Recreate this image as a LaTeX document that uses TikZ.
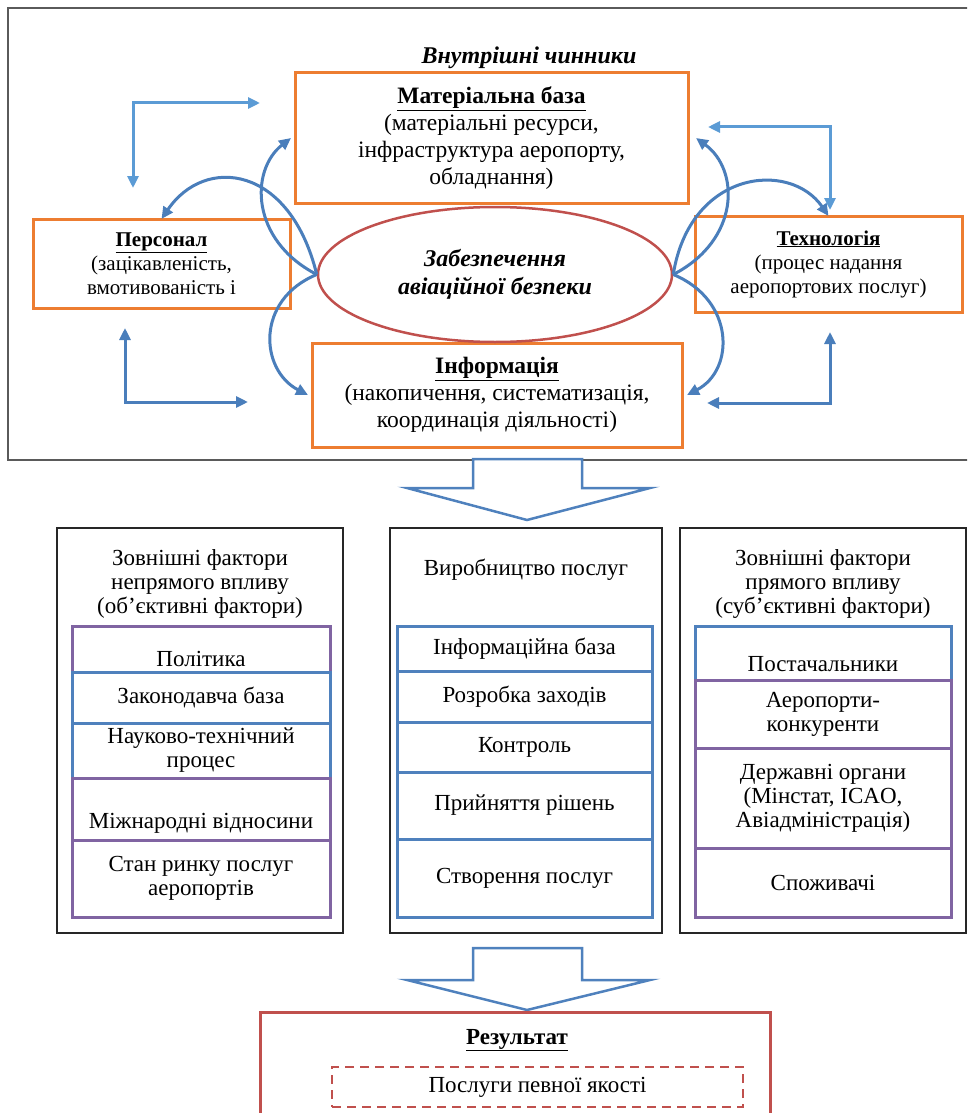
\documentclass[tikz,border=0pt]{standalone}
\usepackage{fontspec}
\setmainfont{Liberation Serif}
\usepackage{tikz}
\usetikzlibrary{positioning, shapes, arrows.meta, calc}
\definecolor{abOrange}{HTML}{ED7D31}
\definecolor{abRed}{HTML}{C0504D}
\definecolor{abBlue}{HTML}{4F81BD}
\definecolor{abPurple}{HTML}{8064A2}
\definecolor{abArrow}{HTML}{4A7EBB}
\definecolor{abArrowLight}{HTML}{5B9BD5}
\definecolor{abFrame}{HTML}{5A5A5A}
\tikzset{
    abBoxBase/.style={
        rectangle,
        draw,
        align=center,
        inner sep=2pt,
        outer sep=0pt
    },
    % Inner factors
    factor/.style={abBoxBase, draw=abOrange, line width=3pt, font=\fontsize{23.5}{27}\selectfont},
    sidefactor/.style={factor, font=\fontsize{21}{24}\selectfont},
    core/.style={ellipse, draw=abRed, line width=2.5pt, minimum width=354pt, minimum height=135pt,
        inner sep=0pt, align=center, font=\fontsize{24}{28}\selectfont\bfseries\itshape},
    % External factors
    panel/.style={abBoxBase, draw=black!85, line width=2pt, minimum height=405pt, anchor=north},
    rowBlue/.style={abBoxBase, draw=abBlue, line width=3pt},
    rowPurple/.style={abBoxBase, draw=abPurple, line width=3pt},
    % Result
    result/.style={abBoxBase, draw=abRed, line width=3pt},
    resultDash/.style={abBoxBase, draw=abRed, line width=2pt, dashed, dash pattern=on 9pt off 6pt},
    % Arrows
    abArrowBase/.style={->, line width=3pt, >={Triangle[length=12pt,width=11pt]}, draw=abArrow},
    abArrowSoft/.style={abArrowBase, draw=abArrowLight},
    abHollow/.style={draw=abBlue, line width=2.5pt, fill=white, line join=miter}
}

\begin{document}
\begin{tikzpicture}[x=1pt, y=-1pt, every node/.style={font=\fontsize{23}{24}\selectfont, align=center}]
    \useasboundingbox (0,0) rectangle (967,1113);
    \clip (0,0) rectangle (967,1113);
    % Inner factors
    \draw[abFrame, line width=2pt] (8,8) rectangle (990,460);
    \node[font=\fontsize{24}{26}\selectfont\bfseries\itshape] (inTitle) at (529,58) {Внутрішні чинники};
    \node[factor, minimum width=393pt, minimum height=130pt] (mat) at (491.5,138)
        {\textbf{\underline{Матеріальна база}}\\(матеріальні ресурси,\\інфраструктура аеропорту,\\обладнання)};
    \node[sidefactor, minimum width=257pt, minimum height=89pt] (pers) at (161.5,263.5)
        {\textbf{\underline{Персонал}}\\(зацікавленість,\\вмотивованість і};
    \node[sidefactor, minimum width=267pt, minimum height=96pt] (tech) at (828.5,264)
        {\textbf{\underline{Технологія}}\\(процес надання\\аеропортових послуг)};
    \node[factor, minimum width=370pt, minimum height=104pt] (info) at (497,395)
        {\textbf{\underline{Інформація}}\\(накопичення, систематизація,\\координація діяльності)};
    \node[core] (core) at (495,274.5) {Забезпечення\\авіаційної безпеки};
    % Curved links
    \draw[abArrowBase] (core.west) .. controls (290,165) and (205,155) .. (pers.north);
    \draw[abArrowBase] (core.west) .. controls (250,240) and (250,170) .. ([xshift=-4pt]mat.west);
    \draw[abArrowBase] (core.west) .. controls (255,300) and (260,370) .. ([xshift=-4pt]info.west);
    \draw[abArrowBase] (core.east) .. controls (740,240) and (740,170) .. ([xshift=8pt]mat.east);
    \draw[abArrowBase] (core.east) .. controls (690,170) and (790,160) .. (tech.north);
    \draw[abArrowBase] (core.east) .. controls (735,300) and (735,370) .. ([xshift=5pt]info.east);
    % Corner arrows
    \coordinate (tlDown) at (133,188);
    \coordinate (tlRight) at (260,103);
    \coordinate (trLeft) at (708,127);
    \coordinate (trDown) at (830,210);
    \coordinate (blUp) at (125,328);
    \coordinate (blRight) at (248,402);
    \coordinate (brLeft) at (707,403);
    \coordinate (brUp) at (830,332);
    \draw[abArrowSoft, <->] (tlDown) |- (tlRight);
    \draw[abArrowSoft, <->] (trLeft) -| (trDown);
    \draw[abArrowBase, <->] (blUp) |- (blRight);
    \draw[abArrowBase, <->] (brLeft) -| (brUp);
    % Big arrows
    \draw[abHollow] (473,459) -- (473,488) -- (407,488) -- (527,520) -- (650,488) -- (582,488) -- (582,459) -- cycle;
    \draw[abHollow] (473,948) -- (473,980) -- (407,980) -- (527,1010) -- (650,980) -- (582,980) -- (582,948) -- cycle;
    % External factors
    \node[panel, minimum width=286pt] (pLeft) at (200,528) {};
    \node[panel, minimum width=272pt] (pMid) at (526,528) {};
    \node[panel, minimum width=286pt] (pRight) at (823,528) {};
    \node (tLeft) at (200,584) {Зовнішні фактори\\непрямого впливу\\(об’єктивні фактори)};
    \node (tMid) at (526,570) {Виробництво послуг};
    \node (tRight) at (823,584) {Зовнішні фактори\\прямого впливу\\(суб’єктивні фактори)};
    \node[rowPurple, anchor=north, minimum width=258pt, minimum height=46pt] (lPol) at (201,626) {\rule{0pt}{36pt}Політика};
    \node[rowBlue, below=0pt of lPol, minimum width=258pt, minimum height=51pt] (lLaw) {Законодавча база};
    \node[rowBlue, below=0pt of lLaw, minimum width=258pt, minimum height=55pt] (lSci) {Науково-технічний\\процес};
    \node[rowPurple, below=0pt of lSci, minimum width=258pt, minimum height=62pt] (lInt) {\rule{0pt}{44pt}Міжнародні відносини};
    \node[rowPurple, below=0pt of lInt, minimum width=258pt, minimum height=77pt] (lMkt) {Стан ринку послуг\\аеропортів};
    \node[rowBlue, anchor=north, minimum width=255pt, minimum height=45pt] (mInf) at (524.5,626) {Інформаційна база};
    \node[rowBlue, below=0pt of mInf, minimum width=255pt, minimum height=51pt] (mDev) {Розробка заходів};
    \node[rowBlue, below=0pt of mDev, minimum width=255pt, minimum height=50pt] (mCtl) {Контроль};
    \node[rowBlue, below=0pt of mCtl, minimum width=255pt, minimum height=67pt] (mDec) {Прийняття рішень};
    \node[rowBlue, below=0pt of mDec, minimum width=255pt, minimum height=78pt] (mSrv) {Створення послуг};
    \node[rowBlue, anchor=north, minimum width=256pt, minimum height=54pt] (rSup) at (823,626) {\rule{0pt}{38pt}Постачальники};
    \node[rowPurple, below=0pt of rSup, minimum width=256pt, minimum height=68pt] (rCmp) {Аеропорти-\\конкуренти};
    \node[rowPurple, below=0pt of rCmp, minimum width=256pt, minimum height=100pt] (rGov) {Державні органи\\(Мінстат, ICAO,\\Авіадміністрація)};
    \node[rowPurple, below=0pt of rGov, minimum width=256pt, minimum height=69pt] (rCon) {Споживачі};
    % Result
    \node[result, anchor=north, minimum width=510pt, minimum height=130pt] (res) at (515,1012) {};
    \node (resTitle) at (517,1040) {\textbf{\underline{Результат}}};
    \node[resultDash, minimum width=411pt, minimum height=40pt] (quality) at (537.5,1087) {Послуги певної якості};
\end{tikzpicture}
\end{document}
